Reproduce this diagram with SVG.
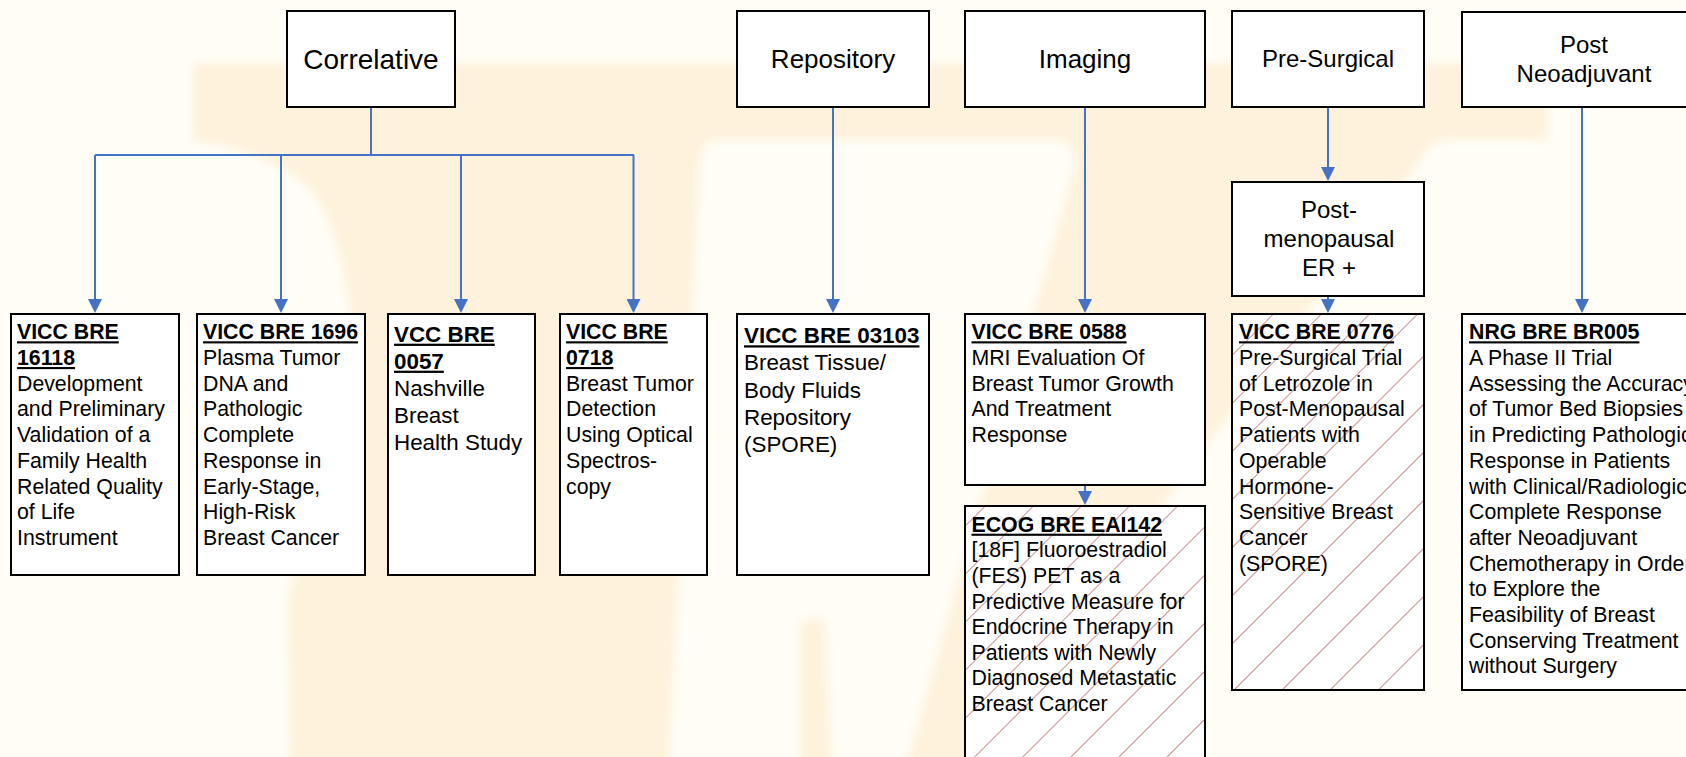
<svg xmlns="http://www.w3.org/2000/svg" width="1686" height="757" viewBox="0 0 1686 757">
<style>
.box{fill:#fff;stroke:#000;stroke-width:2}
.hat{fill:url(#hatch);stroke:none}
.h{font-family:"Liberation Sans",Arial,sans-serif;fill:#000;text-anchor:middle}
.t{font-family:"Liberation Sans",Arial,sans-serif;font-size:21.3px;fill:#000}
.t2{font-family:"Liberation Sans",Arial,sans-serif;font-size:22.4px;fill:#000}
.b{font-weight:bold;text-decoration:underline}
.c{fill:none;stroke:#4472C4;stroke-width:2}
</style>
<defs>
<marker id="arr" markerUnits="userSpaceOnUse" viewBox="0 0 14 14" markerWidth="14" markerHeight="14" refX="12" refY="7" orient="auto">
<path d="M0,0 L14,7 L0,14 Z" fill="#4472C4"/>
</marker>
<pattern id="hatch" patternUnits="userSpaceOnUse" width="34" height="20" patternTransform="rotate(45)">
<line x1="0" y1="0" x2="0" y2="20" stroke="#bf8782" stroke-width="1.8"/>
</pattern>
<filter id="soft" x="-5%" y="-5%" width="110%" height="110%"><feGaussianBlur stdDeviation="4"/></filter>
</defs>
<rect width="1686" height="757" fill="#FFFDF6"/>
<g id="watermark" filter="url(#soft)">
<path d="M193,63 H1548 V140 H1450 Q1430,140 1420,160 L965,770 H290 L288,600 Q320,470 352,330 Q340,210 300,180 Q260,150 193,140 Z" fill="#FEF2DC"/>
<path d="M718,140 Q700,140 700,165 L668,770 H905 L1075,165 Q1075,140 1055,140 Z" fill="#FFFDF6"/>
<path d="M800,625 Q812,612 825,622 L832,770 H800 Z" fill="#FEF2DC"/>
</g>
<g id="connectors">
<path class="c" d="M371,107 V155"/>
<path class="c" d="M95,155 H634"/>
<path class="c" d="M95,155 V311" marker-end="url(#arr)"/>
<path class="c" d="M281,155 V311" marker-end="url(#arr)"/>
<path class="c" d="M461,155 V311" marker-end="url(#arr)"/>
<path class="c" d="M633.5,155 V311" marker-end="url(#arr)"/>
<path class="c" d="M833,107 V311" marker-end="url(#arr)"/>
<path class="c" d="M1085,107 V311" marker-end="url(#arr)"/>
<path class="c" d="M1085,485 V503" marker-end="url(#arr)"/>
<path class="c" d="M1328,107 V179" marker-end="url(#arr)"/>
<path class="c" d="M1328,296 V311" marker-end="url(#arr)"/>
<path class="c" d="M1582,107 V311" marker-end="url(#arr)"/>
</g>
<g id="correlative">
<rect class="box" x="287" y="11" width="168" height="96"/>
<text class="h" x="371" y="69" font-size="28">Correlative</text>
</g>
<g id="repository">
<rect class="box" x="737" y="11" width="192" height="96"/>
<text class="h" x="833" y="68" font-size="26">Repository</text>
</g>
<g id="imaging">
<rect class="box" x="965" y="11" width="240" height="96"/>
<text class="h" x="1085" y="68" font-size="26">Imaging</text>
</g>
<g id="presurgical">
<rect class="box" x="1232" y="11" width="192" height="96"/>
<text class="h" x="1328" y="67" font-size="24">Pre-Surgical</text>
</g>
<g id="postneoadjuvant">
<rect class="box" x="1462" y="12" width="240" height="95"/>
<text class="h" x="1584" y="53" font-size="24"><tspan x="1584">Post</tspan><tspan x="1584" dy="29">Neoadjuvant</tspan></text>
</g>
<g id="postmenopausal">
<rect class="box" x="1232" y="182" width="192" height="114"/>
<text class="h" x="1329" y="218" font-size="24"><tspan x="1329">Post-</tspan><tspan x="1329" dy="29">menopausal</tspan><tspan x="1329" dy="29">ER +</tspan></text>
</g>
<g id="vicc16118">
<rect class="box" x="11" y="314" width="168" height="261"/>
<text class="t" y="339.3"><tspan class="b" x="17">VICC BRE</tspan><tspan class="b" x="17" dy="25.7">16118</tspan><tspan x="17" dy="25.7">Development</tspan><tspan x="17" dy="25.7">and Preliminary</tspan><tspan x="17" dy="25.7">Validation of a</tspan><tspan x="17" dy="25.7">Family Health</tspan><tspan x="17" dy="25.7">Related Quality</tspan><tspan x="17" dy="25.7">of Life</tspan><tspan x="17" dy="25.7">Instrument</tspan></text>
</g>
<g id="vicc1696">
<rect class="box" x="197" y="314" width="168" height="261"/>
<text class="t" y="339.3"><tspan class="b" x="203">VICC BRE 1696</tspan><tspan x="203" dy="25.7">Plasma Tumor</tspan><tspan x="203" dy="25.7">DNA and</tspan><tspan x="203" dy="25.7">Pathologic</tspan><tspan x="203" dy="25.7">Complete</tspan><tspan x="203" dy="25.7">Response in</tspan><tspan x="203" dy="25.7">Early-Stage,</tspan><tspan x="203" dy="25.7">High-Risk</tspan><tspan x="203" dy="25.7">Breast Cancer</tspan></text>
</g>
<g id="vcc0057">
<rect class="box" x="388" y="314" width="147" height="261"/>
<text class="t2" y="341.7"><tspan class="b" x="394">VCC BRE</tspan><tspan class="b" x="394" dy="27">0057</tspan><tspan x="394" dy="27">Nashville</tspan><tspan x="394" dy="27">Breast</tspan><tspan x="394" dy="27">Health Study</tspan></text>
</g>
<g id="vicc0718">
<rect class="box" x="560" y="314" width="147" height="261"/>
<text class="t" y="339.3"><tspan class="b" x="566">VICC BRE</tspan><tspan class="b" x="566" dy="25.7">0718</tspan><tspan x="566" dy="25.7">Breast Tumor</tspan><tspan x="566" dy="25.7">Detection</tspan><tspan x="566" dy="25.7">Using Optical</tspan><tspan x="566" dy="25.7">Spectros-</tspan><tspan x="566" dy="25.7">copy</tspan></text>
</g>
<g id="vicc03103">
<rect class="box" x="737" y="314" width="192" height="261"/>
<text class="t2" y="343.3"><tspan class="b" x="744">VICC BRE 03103</tspan><tspan x="744" dy="27.1">Breast Tissue/</tspan><tspan x="744" dy="27.1">Body Fluids</tspan><tspan x="744" dy="27.1">Repository</tspan><tspan x="744" dy="27.1">(SPORE)</tspan></text>
</g>
<g id="vicc0588">
<rect class="box" x="965" y="314" width="240" height="171"/>
<text class="t" y="339.3"><tspan class="b" x="971.5">VICC BRE 0588</tspan><tspan x="971.5" dy="25.7">MRI Evaluation Of</tspan><tspan x="971.5" dy="25.7">Breast Tumor Growth</tspan><tspan x="971.5" dy="25.7">And Treatment</tspan><tspan x="971.5" dy="25.7">Response</tspan></text>
</g>
<g id="ecogeai142">
<rect x="965" y="506" width="240" height="270" fill="#fff"/>
<rect class="hat" x="965" y="506" width="240" height="270"/>
<rect x="965" y="506" width="240" height="270" fill="none" stroke="#000" stroke-width="2"/>
<text class="t" y="531.7"><tspan class="b" x="971.5">ECOG BRE EAI142</tspan><tspan x="971.5" dy="25.6">[18F] Fluoroestradiol</tspan><tspan x="971.5" dy="25.6">(FES) PET as a</tspan><tspan x="971.5" dy="25.6">Predictive Measure for</tspan><tspan x="971.5" dy="25.6">Endocrine Therapy in</tspan><tspan x="971.5" dy="25.6">Patients with Newly</tspan><tspan x="971.5" dy="25.6">Diagnosed Metastatic</tspan><tspan x="971.5" dy="25.6">Breast Cancer</tspan></text>
</g>
<g id="vicc0776">
<rect x="1232" y="314" width="192" height="376" fill="#fff"/>
<rect class="hat" x="1232" y="314" width="192" height="376"/>
<rect x="1232" y="314" width="192" height="376" fill="none" stroke="#000" stroke-width="2"/>
<text class="t" y="339.3"><tspan class="b" x="1239">VICC BRE 0776</tspan><tspan x="1239" dy="25.7">Pre-Surgical Trial</tspan><tspan x="1239" dy="25.7">of Letrozole in</tspan><tspan x="1239" dy="25.7">Post-Menopausal</tspan><tspan x="1239" dy="25.7">Patients with</tspan><tspan x="1239" dy="25.7">Operable</tspan><tspan x="1239" dy="25.7">Hormone-</tspan><tspan x="1239" dy="25.7">Sensitive Breast</tspan><tspan x="1239" dy="25.7">Cancer</tspan><tspan x="1239" dy="25.7">(SPORE)</tspan></text>
</g>
<g id="nrgbr005">
<rect class="box" x="1462" y="314" width="240" height="376"/>
<text class="t" y="339.3"><tspan class="b" x="1469">NRG BRE BR005</tspan><tspan x="1469" dy="25.7">A Phase II Trial</tspan><tspan x="1469" dy="25.7">Assessing the Accuracy</tspan><tspan x="1469" dy="25.7">of Tumor Bed Biopsies</tspan><tspan x="1469" dy="25.7">in Predicting Pathologic</tspan><tspan x="1469" dy="25.7">Response in Patients</tspan><tspan x="1469" dy="25.7">with Clinical/Radiologic</tspan><tspan x="1469" dy="25.7">Complete Response</tspan><tspan x="1469" dy="25.7">after Neoadjuvant</tspan><tspan x="1469" dy="25.7">Chemotherapy in Order</tspan><tspan x="1469" dy="25.7">to Explore the</tspan><tspan x="1469" dy="25.7">Feasibility of Breast</tspan><tspan x="1469" dy="25.7">Conserving Treatment</tspan><tspan x="1469" dy="25.7">without Surgery</tspan></text>
</g>
</svg>
